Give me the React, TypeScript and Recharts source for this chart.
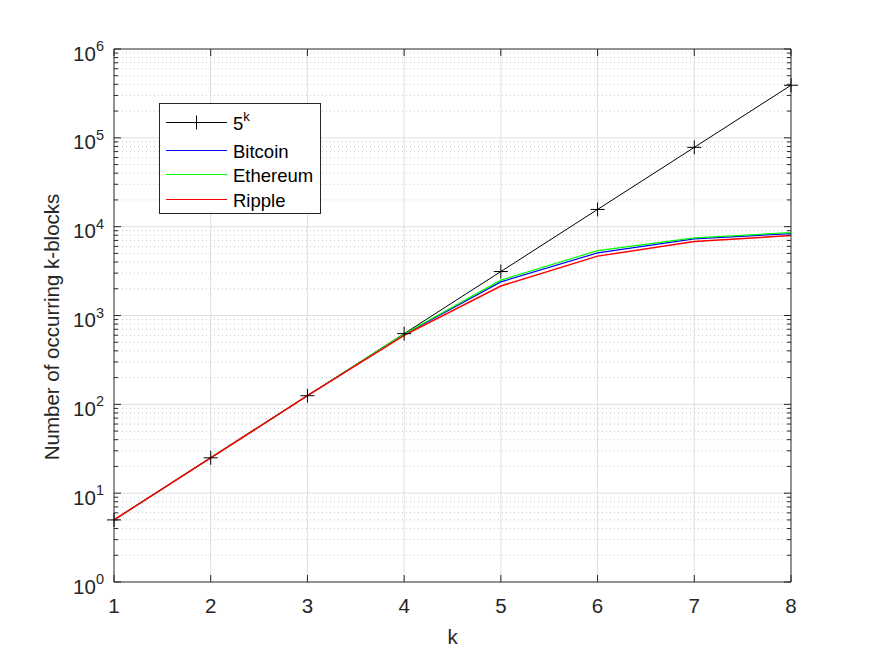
import React from 'react';
import { LineChart, Line, XAxis, YAxis, ReferenceLine, Legend } from 'recharts';

const K = [1, 2, 3, 4, 5, 6, 7, 8];
const FIVE_K = [5, 25, 125, 625, 3125, 15625, 78125, 390625];
const BITCOIN = [5, 25, 125, 612, 2390, 5070, 7290, 8360];
const ETHEREUM = [5, 25, 125, 618, 2500, 5380, 7480, 8580];
const RIPPLE = [5, 25, 125, 598, 2150, 4660, 6800, 7940];

const Y_MAJOR = [1, 10, 100, 1000, 10000, 100000, 1000000];
const Y_LABELS = ['0', '1', '2', '3', '4', '5', '6'];
const Y_MINOR = [
  2, 3, 4, 5, 6, 7, 8, 9, 20, 30, 40, 50, 60, 70, 80, 90, 200, 300, 400, 500, 600, 700, 800, 900,
  2000, 3000, 4000, 5000, 6000, 7000, 8000, 9000, 20000, 30000, 40000, 50000, 60000, 70000, 80000,
  90000, 200000, 300000, 400000, 500000, 600000, 700000, 800000, 900000,
];
const X_TICKS = [1, 2, 3, 4, 5, 6, 7, 8];

const W = 875;
const H = 656;
const LEFT = 114;
const RIGHT = 791;
const TOP = 49;
const BOTTOM = 582;
const AX = '#262626';
const FONT = '"Liberation Sans", Arial, sans-serif';

const data = K.map((k, i) => ({
  k,
  five: FIVE_K[i],
  bitcoin: BITCOIN[i],
  ethereum: ETHEREUM[i],
  ripple: RIPPLE[i],
}));

const YTick = (props: any) => {
  const { y, payload } = props;
  const idx = Y_MAJOR.indexOf(payload.value);
  const major = idx >= 0;
  const len = major ? 7 : 4;
  return (
    <g>
      <line x1={LEFT} x2={LEFT + len} y1={y} y2={y} stroke={AX} />
      <line x1={RIGHT} x2={RIGHT - len} y1={y} y2={y} stroke={AX} />
      {major && (
        <text x={LEFT - 10} y={y + 11.5} textAnchor="end" fill={AX} fontFamily={FONT} fontSize={20.5}>
          10
          <tspan dy={-9.5} fontSize={14.5}>
            {Y_LABELS[idx]}
          </tspan>
        </text>
      )}
    </g>
  );
};

const XTick = (props: any) => {
  const { x, payload } = props;
  return (
    <g>
      <line x1={x} x2={x} y1={BOTTOM} y2={BOTTOM - 7} stroke={AX} />
      <line x1={x} x2={x} y1={TOP} y2={TOP + 7} stroke={AX} />
      <text x={x} y={BOTTOM + 31} textAnchor="middle" fill={AX} fontFamily={FONT} fontSize={20.5}>
        {payload.value}
      </text>
    </g>
  );
};

const PlusDot = (props: any) => {
  const { cx, cy } = props;
  return (
    <g>
      <line x1={cx - 7} x2={cx + 7} y1={cy} y2={cy} stroke="#000" />
      <line x1={cx} x2={cx} y1={cy - 7} y2={cy + 7} stroke="#000" />
    </g>
  );
};

const LEGEND_ROWS = [
  { name: '5', sup: 'k', color: '#000000', y: 19.5 },
  { name: 'Bitcoin', sup: '', color: '#0000ff', y: 47.5 },
  { name: 'Ethereum', sup: '', color: '#00ff00', y: 71.5 },
  { name: 'Ripple', sup: '', color: '#ff0000', y: 96.5 },
];

const LegendBox = () => (
  <svg width={163} height={111} style={{ display: 'block' }}>
    <rect x={0.5} y={0.5} width={161} height={110} fill="#fff" stroke={AX} />
    {LEGEND_ROWS.map((r) => (
      <g key={r.name}>
        <line x1={7} x2={68} y1={r.y} y2={r.y} stroke={r.color} strokeWidth={1.2} />
        {r.sup && <line x1={37.5} x2={37.5} y1={r.y - 7} y2={r.y + 7} stroke="#000" />}
        <text x={74} y={r.y + 7} fontFamily={FONT} fontSize={18.5} fill="#000">
          {r.name}
          {r.sup && (
            <tspan dy={-9} fontSize={13}>
              {r.sup}
            </tspan>
          )}
        </text>
      </g>
    ))}
  </svg>
);

export default function App() {
  return (
    <div style={{ position: 'absolute', left: 0, top: 0, width: W, height: H, background: '#fff' }}>
      <LineChart
        width={W}
        height={H}
        data={data}
        margin={{ top: TOP, right: W - RIGHT, left: 0, bottom: 0 }}
      >
        <XAxis
          dataKey="k"
          type="number"
          domain={[1, 8]}
          ticks={X_TICKS}
          interval={0}
          height={H - BOTTOM}
          axisLine={{ stroke: AX }}
          tickLine={false}
          tick={<XTick />}
          label={{ value: 'k', position: 'center', dy: 18, fill: AX, fontSize: 20.5, fontFamily: FONT }}
        />
        <YAxis
          scale="log"
          domain={[1, 1000000]}
          allowDataOverflow
          ticks={[...Y_MAJOR, ...Y_MINOR]}
          interval={0}
          width={LEFT}
          axisLine={{ stroke: AX }}
          tickLine={false}
          tick={<YTick />}
          label={{
            value: 'Number of occurring k-blocks',
            angle: -90,
            position: 'center',
            dx: -5,
            dy: 11.5,
            fill: AX,
            fontSize: 20.5,
            fontFamily: FONT,
          }}
        />
        {X_TICKS.slice(1, -1).map((v) => (
          <ReferenceLine key={`vx${v}`} x={v} stroke="#dfdfdf" />
        ))}
        {Y_MINOR.map((v) => (
          <ReferenceLine key={`mn${v}`} y={v} stroke="#c8c8c8" strokeDasharray="1 3" />
        ))}
        {Y_MAJOR.slice(1, -1).map((v) => (
          <ReferenceLine key={`mj${v}`} y={v} stroke="#dfdfdf" />
        ))}
        <ReferenceLine x={8} stroke={AX} />
        <ReferenceLine y={1000000} stroke={AX} />
        <Legend
          layout="horizontal"
          align="center"
          verticalAlign="middle"
          content={<LegendBox />}
          wrapperStyle={{ position: 'absolute', left: 159, top: 103, width: 163, height: 111 }}
        />
        <Line
          dataKey="five"
          stroke="#000"
          strokeWidth={1}
          dot={<PlusDot />}
          isAnimationActive={false}
        />
        <Line dataKey="bitcoin" stroke="#0000ff" strokeWidth={1.2} dot={false} isAnimationActive={false} />
        <Line dataKey="ethereum" stroke="#00ff00" strokeWidth={1.2} dot={false} isAnimationActive={false} />
        <Line dataKey="ripple" stroke="#ff0000" strokeWidth={1.5} dot={false} isAnimationActive={false} />
      </LineChart>
    </div>
  );
}
